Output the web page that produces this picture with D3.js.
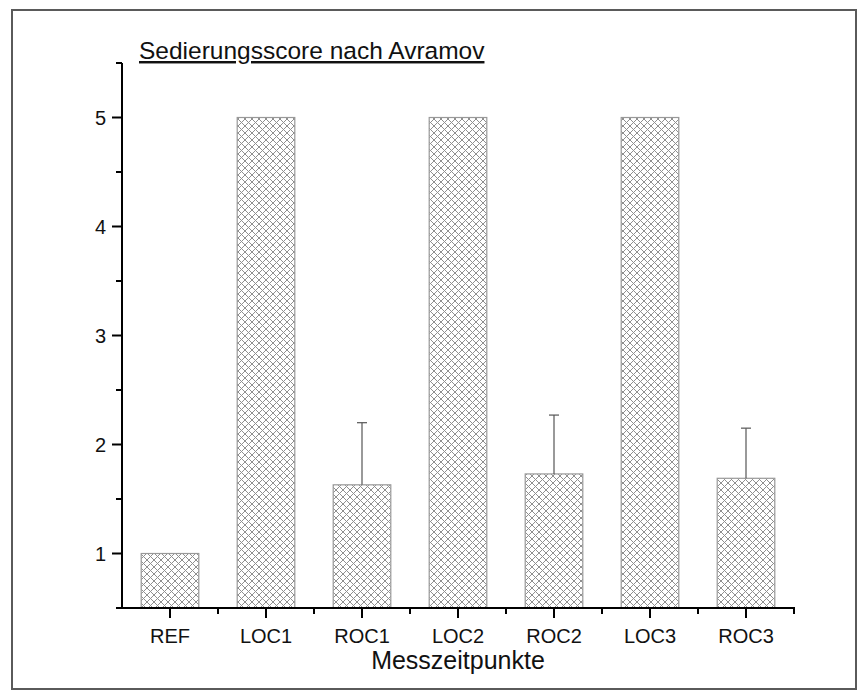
<!DOCTYPE html>
<html>
<head>
<meta charset="utf-8">
<script src="https://cdn.jsdelivr.net/npm/d3@7"></script>
<style>
  body { margin: 0; background: #fff; }
  text { font-family: "Liberation Sans", Arial, sans-serif; fill: #111; }
</style>
</head>
<body>
<div id="chartDiv" style="width:868px;height:690px"></div>
<script>
const categories = ["REF", "LOC1", "ROC1", "LOC2", "ROC2", "LOC3", "ROC3"];
const means = [1, 5, 1.63, 5, 1.73, 5, 1.69];
const errors = [0, 0, 0.57, 0, 0.54, 0, 0.46];
const yTicks = [1, 2, 3, 4, 5];

const width = 868, height = 690;

const svg = d3.select("#chartDiv").append("svg")
    .attr("width", width)
    .attr("height", height);

// kreuzschraffur
const defs = svg.append("defs");
const pat = defs.append("pattern")
    .attr("id", "hatch")
    .attr("patternUnits", "userSpaceOnUse")
    .attr("width", 7)
    .attr("height", 7);
pat.append("rect").attr("width", 7).attr("height", 7).attr("fill", "#fff");
pat.append("path")
    .attr("d", "M0,0L7,7M7,0L0,7M-1,6L1,8M6,-1L8,1M-1,1L1,-1M6,8L8,6")
    .attr("stroke", "#8f8f8f")
    .attr("stroke-width", 1);

// rahmen
svg.append("rect")
    .attr("x", 12).attr("y", 10)
    .attr("width", 844).attr("height", 679)
    .attr("fill", "none")
    .attr("stroke", "#5a5a5a")
    .attr("stroke-width", 2);

const x = d3.scaleBand()
    .domain(categories)
    .range([122, 794])
    .paddingInner(0)
    .paddingOuter(0);

const y = d3.scaleLinear()
    .domain([0.5, 5.5])
    .range([608, 63]);

const barW = x.bandwidth() * 0.6;

const bars = svg.append("g");
bars.selectAll("rect")
    .data(categories)
    .join("rect")
    .attr("x", d => x(d) + (x.bandwidth() - barW) / 2)
    .attr("y", (d, i) => y(means[i]))
    .attr("width", barW)
    .attr("height", (d, i) => y(0.5) - y(means[i]))
    .attr("fill", "url(#hatch)")
    .attr("stroke", "#999")
    .attr("stroke-width", 1.2);

// fehlerbalken
const err = svg.append("g")
    .attr("stroke", "#555")
    .attr("stroke-width", 1.2);
categories.forEach((c, i) => {
  if (!errors[i]) return;
  const cx = x(c) + x.bandwidth() / 2;
  err.append("line")
      .attr("x1", cx).attr("x2", cx)
      .attr("y1", y(means[i])).attr("y2", y(means[i] + errors[i]));
  err.append("line")
      .attr("x1", cx - 5).attr("x2", cx + 5)
      .attr("y1", y(means[i] + errors[i])).attr("y2", y(means[i] + errors[i]));
});

// y-achse
const yAxis = svg.append("g").attr("stroke", "#000").attr("stroke-width", 2);
yAxis.append("line")
    .attr("x1", 122).attr("x2", 122)
    .attr("y1", y(5.5)).attr("y2", y(0.5));
const minorY = d3.range(0.5, 5.51, 0.5);
yAxis.selectAll(".tk")
    .data(minorY)
    .join("line")
    .attr("x1", d => Number.isInteger(d) ? 112 : 116)
    .attr("x2", 122)
    .attr("y1", d => y(d)).attr("y2", d => y(d));
svg.append("g").selectAll("text")
    .data(yTicks)
    .join("text")
    .attr("x", 106)
    .attr("y", d => y(d))
    .attr("dy", "0.36em")
    .attr("text-anchor", "end")
    .attr("font-size", 20)
    .text(d => d);

// x-achse
const xAxis = svg.append("g").attr("stroke", "#000").attr("stroke-width", 2);
xAxis.append("line")
    .attr("x1", 121).attr("x2", 795)
    .attr("y1", 608).attr("y2", 608);
xAxis.selectAll(".maj")
    .data(categories)
    .join("line")
    .attr("x1", d => x(d) + x.bandwidth() / 2)
    .attr("x2", d => x(d) + x.bandwidth() / 2)
    .attr("y1", 608).attr("y2", 618);
xAxis.selectAll(".min")
    .data(categories)
    .join("line")
    .attr("x1", d => x(d) + x.bandwidth())
    .attr("x2", d => x(d) + x.bandwidth())
    .attr("y1", 608).attr("y2", 614);
svg.append("g").selectAll("text")
    .data(categories)
    .join("text")
    .attr("x", d => x(d) + x.bandwidth() / 2)
    .attr("y", 643)
    .attr("text-anchor", "middle")
    .attr("font-size", 20)
    .text(d => d);

svg.append("text")
    .attr("x", (122 + 794) / 2)
    .attr("y", 669)
    .attr("text-anchor", "middle")
    .attr("font-size", 25)
    .text("Messzeitpunkte");

svg.append("text")
    .attr("x", 139)
    .attr("y", 59)
    .attr("font-size", 24.5)
    .attr("text-decoration", "underline")
    .text("Sedierungsscore nach Avramov");
</script>
</body>
</html>
